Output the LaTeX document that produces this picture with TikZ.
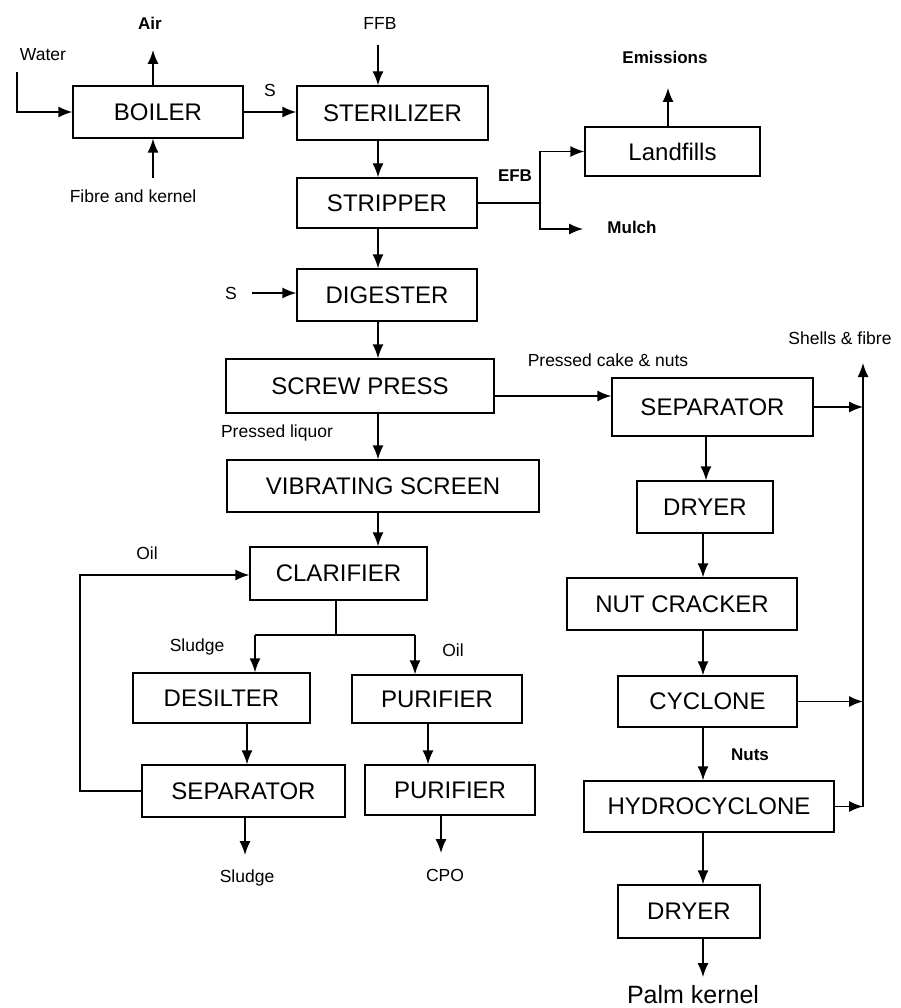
\documentclass[tikz,border=0pt]{standalone}
\usepackage{fontspec}
\setmainfont{Liberation Sans}
\usetikzlibrary{arrows.meta}

\tikzset{
  unit/.style={draw, line width=1.4pt, inner sep=0pt, font=\fontsize{24}{27}\selectfont},
  lbl/.style={font=\fontsize{17.5}{20}\selectfont, inner sep=0pt},
  blbl/.style={font=\bfseries\fontsize{17}{20}\selectfont, inner sep=0pt},
  flow/.style={line width=1.4pt, -{Latex[length=14pt,width=11pt]}},
  line/.style={line width=1.4pt}
}

\begin{document}
\begin{tikzpicture}[x=1pt, y=-1pt]
	\useasboundingbox (0,0) rectangle (901,1008);
	
	% Units
	\node[unit, minimum width=170, minimum height=52] (boiler) at (158,112) {BOILER};
	\node[unit, minimum width=191, minimum height=54] (steril) at (392.5,113) {STERILIZER};
	\node[unit, minimum width=180, minimum height=50] (stripper) at (387,203) {STRIPPER};
	\node[unit, minimum width=175, minimum height=49] (landfill) at (672.5,151.5) {Landfills};
	\node[unit, minimum width=180, minimum height=52] (digester) at (387,295) {DIGESTER};
	\node[unit, minimum width=268, minimum height=54] (screw) at (360,386) {SCREW PRESS};
	\node[unit, minimum width=312, minimum height=52] (vibr) at (383,486) {VIBRATING SCREEN};
	\node[unit, minimum width=177, minimum height=53] (clar) at (338.5,573.5) {CLARIFIER};
	\node[unit, minimum width=177, minimum height=50] (desilter) at (221.5,698) {DESILTER};
	\node[unit, minimum width=170, minimum height=48] (purifA) at (437,699) {PURIFIER};
	\node[unit, minimum width=203, minimum height=52] (sepB) at (243.5,791) {SEPARATOR};
	\node[unit, minimum width=170, minimum height=50] (purifB) at (450,790) {PURIFIER};
	\node[unit, minimum width=201, minimum height=58] (sepA) at (712.5,407) {SEPARATOR};
	\node[unit, minimum width=136, minimum height=52] (dryerA) at (705,507) {DRYER};
	\node[unit, minimum width=230, minimum height=52] (cracker) at (682,604) {NUT CRACKER};
	\node[unit, minimum width=179, minimum height=51] (cyclone) at (707.5,701.5) {CYCLONE};
	\node[unit, minimum width=250, minimum height=51] (hydro) at (709,806.5) {HYDROCYCLONE};
	\node[unit, minimum width=142, minimum height=53] (dryerB) at (689,911.5) {DRYER};
	
	% Labels
	\node[lbl] (water) at (43,55) {Water};
	\node[blbl] (air) at (150,23) {Air};
	\node[lbl] (fibre) at (133,196) {Fibre and kernel};
	\node[lbl] (sA) at (270,90) {S};
	\node[lbl] (ffb) at (380,23) {FFB};
	\node[blbl] (efb) at (515,176) {EFB};
	\node[blbl] (emis) at (665,57) {Emissions};
	\node[blbl] (mulch) at (632,227) {Mulch};
	\node[lbl] (sB) at (231,293) {S};
	\node[lbl] (cake) at (608,360) {Pressed cake \& nuts};
	\node[lbl] (liquor) at (277,433) {Pressed liquor};
	\node[lbl] (shells) at (840,338) {Shells \& fibre};
	\node[lbl] (oilA) at (147,553) {Oil};
	\node[lbl] (sludgeA) at (197,647) {Sludge};
	\node[lbl] (oilB) at (453,650) {Oil};
	\node[lbl] (sludgeB) at (247,878) {Sludge};
	\node[lbl] (cpo) at (445,875) {CPO};
	\node[blbl] (nuts) at (750,755) {Nuts};
	\node[font=\fontsize{25}{28}\selectfont, inner sep=0pt] (kernel) at (693,995) {Palm kernel};
	
	% Free ends and junctions
	\coordinate (watin) at (17,72);
	\coordinate (airout) at (153,50);
	\coordinate (fibin) at (153,178);
	\coordinate (ffbin) at (378,45);
	\coordinate (col) at (378,0);
	\coordinate (efbj) at (540,205);
	\coordinate (emisout) at (668,88);
	\coordinate (mulchin) at (583,229);
	\coordinate (sin) at (252,293);
	\coordinate (cakey) at (0,396);
	\coordinate (colB) at (703,0);
	\coordinate (rail) at (863,0);
	\coordinate (railtop) at (863,363);
	\coordinate (kernelout) at (703,977);
	\coordinate (clarj) at (336,635);
	\coordinate (loop) at (80,575);
	\coordinate (sludgeout) at (245,855);
	\coordinate (cpoout) at (441,853);
	
	% Boiler
	\draw[flow] (watin) |- (boiler.west);
	\draw[flow] (airout |- boiler.north) -- (airout);
	\draw[flow] (fibin) -- (fibin |- boiler.south);
	\draw[flow] (boiler.east) -- (boiler.east -| steril.west);
	
	% Main line
	\draw[flow] (ffbin) -- (ffbin |- steril.north);
	\draw[flow] (steril.south -| col) -- (stripper.north -| col);
	\draw[flow] (stripper.south -| col) -- (digester.north -| col);
	\draw[flow] (sin) -- (sin -| digester.west);
	\draw[flow] (digester.south -| col) -- (screw.north -| col);
	\draw[flow] (screw.south -| col) -- (vibr.north -| col);
	\draw[flow] (vibr.south -| col) -- (clar.north -| col);
	
	% EFB
	\draw[line] (stripper.east) -- (stripper.east -| efbj);
	\draw[flow] (stripper.east -| efbj) |- (landfill.west);
	\draw[flow] (stripper.east -| efbj) |- (mulchin);
	\draw[flow] (landfill.north -| emisout) -- (emisout);
	
	% Clarification
	\draw[line] (clar.south -| clarj) -- (clarj);
	\draw[line] (clarj) -- (clarj -| 255,0) coordinate (cjl);
	\draw[line] (clarj) -- (clarj -| 415,0) coordinate (cjr);
	\draw[flow] (cjl) -- (cjl |- desilter.north);
	\draw[flow] (cjr) -- (cjr |- purifA.north);
	\draw[flow] (desilter.south -| 247,0) -- (sepB.north -| 247,0);
	\draw[flow] (purifA.south -| 428,0) -- (purifB.north -| 428,0);
	\draw[flow] (sepB.west) -| (loop) -- (loop -| clar.west);
	\draw[flow] (sepB.south -| sludgeout) -- (sludgeout);
	\draw[flow] (purifB.south -| cpoout) -- (cpoout);
	
	% Kernel line
	\draw[flow] (screw.east |- cakey) -- (sepA.west |- cakey);
	\draw[flow] (sepA.south -| 706,0) -- (dryerA.north -| 706,0);
	\draw[flow] (dryerA.south -| colB) -- (cracker.north -| colB);
	\draw[flow] (cracker.south -| colB) -- (cyclone.north -| colB);
	\draw[flow] (cyclone.south -| colB) -- (hydro.north -| colB);
	\draw[flow] (hydro.south -| colB) -- (dryerB.north -| colB);
	\draw[flow] (dryerB.south -| colB) -- (kernelout);
	
	% Shells and fibre
	\draw[flow] (sepA.east) -- (sepA.east -| rail);
	\draw[flow] (cyclone.east) -- (cyclone.east -| rail);
	\draw[flow] (hydro.east) -- (hydro.east -| rail);
	\draw[flow] (hydro.east -| rail) -- (railtop);
\end{tikzpicture}
\end{document}
